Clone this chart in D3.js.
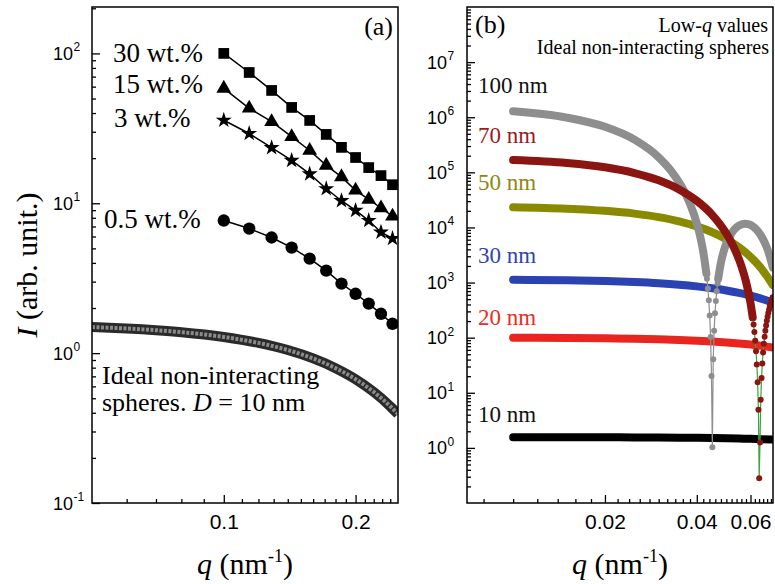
<!DOCTYPE html>
<html>
<head>
<meta charset="utf-8">
<script src="https://cdn.jsdelivr.net/npm/d3@7"></script>
<style>
  body { margin: 0; background: #fff; }
  .serif { font-family: "Liberation Serif", "Times New Roman", serif; }
  .sans { font-family: "Liberation Sans", Arial, sans-serif; }
</style>
</head>
<body>
<div id="chart"></div>
<script>
// ---------- Panel (a) data ----------
// q values (nm^-1) shared by the four concentration series
var qA = [0.1000, 0.1143, 0.1286, 0.1429, 0.1571, 0.1714, 0.1857, 0.2000, 0.2143, 0.2286, 0.2429];
var wt30 = [100, 74.6, 56.6, 43.6, 35.7, 28.8, 23.6, 20.2, 17.3, 15.3, 13.3];
var wt15 = [58.4, 43.0, 35.0, 27.8, 22.5, 17.9, 15.0, 12.2, 10.6, 9.3, 8.2];
var wt3 = [35.8, 29.2, 23.5, 19.3, 15.7, 12.5, 10.4, 8.96, 7.67, 6.41, 5.82];
var wt05 = [7.67, 6.78, 5.91, 5.06, 4.27, 3.55, 2.91, 2.49, 2.14, 1.83, 1.57];

// ideal spheres, D = 10 nm
var qSph = [0.05, 0.06, 0.07, 0.08, 0.10, 0.12, 0.14, 0.16, 0.18, 0.20, 0.22, 0.24, 0.25];
var iSph = [1.493, 1.460, 1.422, 1.380, 1.282, 1.170, 1.049, 0.922, 0.794, 0.670, 0.551, 0.442, 0.392];

// ---------- Panel (b) data ----------
var qFlat = [0.010, 0.015, 0.020, 0.025, 0.030, 0.035, 0.040, 0.045, 0.050, 0.055, 0.060, 0.065, 0.071];
var i10nm = [1.567, 1.563, 1.558, 1.551, 1.542, 1.532, 1.520, 1.508, 1.493, 1.477, 1.460, 1.442, 1.419];
var i20nm = [99.7, 98.7, 97.3, 95.6, 93.5, 91.0, 88.3, 85.3, 82.0, 78.5, 74.9, 71.1, 66.3];
var i30nm = [1124, 1099, 1065, 1022, 972, 915, 853, 787, 719, 649, 579, 511, 431];
var i50nm = [23331, 21901, 20025, 17816, 15401, 12909, 10463, 8172, 6120, 4363, 2931, 1827, 903];

var q70nm = [0.010, 0.015, 0.020, 0.025, 0.030, 0.035, 0.040, 0.045, 0.050, 0.053, 0.056, 0.058, 0.060, 0.061];
var i70nm = [167342, 147621, 123357, 97193, 71701, 48998, 30494, 16793, 7746, 4272, 1999, 1035, 427, 234];
var q70dip = [0.06103, 0.06141, 0.06179, 0.06217, 0.06255, 0.06293, 0.06331, 0.06369, 0.06407, 0.06445,
              0.06483, 0.06521, 0.06559, 0.06597, 0.06635, 0.06673, 0.06711, 0.06749, 0.06787, 0.06825,
              0.06863, 0.06901, 0.06939, 0.06977, 0.07015, 0.07053, 0.07091];
var i70dip = [229.7, 173.9, 126.8, 87.7, 56.7, 32.7, 15.6, 4.93, 0.281, 1.257,
              7.47, 18.5, 34.1, 53.8, 77.2, 104.1, 134.1, 166.9, 202.2, 239.6,
              279.0, 319.9, 362.2, 405.5, 449.6, 494.3, 539.4];

var q100nm = [0.010, 0.015, 0.020, 0.025, 0.030, 0.033, 0.036, 0.038, 0.040, 0.041, 0.042, 0.043];
var i100nm = [1281630, 985665, 669668, 391652, 187604, 105204, 50377, 26891, 11906, 7041, 3630, 1458];
var q100dip = [0.04319, 0.04349, 0.04379, 0.04409, 0.04439, 0.04469, 0.04499, 0.04529, 0.04559, 0.04589,
               0.04619, 0.04649, 0.04679, 0.04709];
var i100dip = [1166.9, 780.2, 477.4, 253.3, 102.5, 20.1, 1.03, 40.5, 133.9, 276.7, 464.5, 693.0, 957.9, 1255.5];
var q100lobe = [0.0470, 0.0480, 0.0490, 0.0500, 0.0520, 0.0540, 0.0560, 0.0576, 0.0590, 0.0610, 0.0630, 0.0650, 0.0670, 0.0690, 0.0710];
var i100lobe = [1163, 2317, 3671, 5111, 7877, 10053, 11337, 11658, 11449, 10475, 8919, 7046, 5114, 3339, 1884];

// tick labels
var yTicksA = [0.1, 1, 10, 100];
var yExpA = ["-1", "0", "1", "2"];
var xTicksA = [0.1, 0.2];
var yTicksB = [1, 10, 100, 1e3, 1e4, 1e5, 1e6, 1e7];
var yExpB = ["0", "1", "2", "3", "4", "5", "6", "7"];
var xTicksB = [0.02, 0.04, 0.06];

// ---------- setup ----------
var svgWidth = 775;
var svgHeight = 584;

var svg = d3.select("#chart")
    .append("svg")
    .attr("width", svgWidth)
    .attr("height", svgHeight);

var boxA = {left: 92, right: 398, top: 7, bottom: 503};
var boxB = {left: 467, right: 773, top: 7, bottom: 503};

var xA = d3.scaleLog().domain([0.05, 0.25]).range([boxA.left, boxA.right]);
var yA = d3.scaleLog().domain([0.1, 204]).range([boxA.bottom, boxA.top]);
var xB = d3.scaleLog().domain([0.00706, 0.0711]).range([boxB.left, boxB.right]);
var yB = d3.scaleLog().domain([0.1, 1e8]).range([boxB.bottom, boxB.top]);

var defs = svg.append("defs");
[["clipA", boxA], ["clipB", boxB]].forEach(function(c) {
    defs.append("clipPath").attr("id", c[0]).append("rect")
        .attr("x", c[1].left).attr("y", c[1].top)
        .attr("width", c[1].right - c[1].left)
        .attr("height", c[1].bottom - c[1].top);
});

function zip(q, v) {
    return q.map(function(d, i) { return [d, v[i]]; });
}

// minor ticks of a log axis (2..9 in each decade)
function logMinor(domain) {
    var out = [];
    for (var e = -2; e <= 9; e++) {
        for (var m = 2; m <= 9; m++) {
            var v = m * Math.pow(10, e);
            if (v > domain[0] && v < domain[1]) out.push(v);
        }
    }
    return out;
}

function cleanAxis(g) {
    g.select(".domain").remove();
    g.selectAll(".tick line").attr("stroke", "#000").attr("stroke-width", 1.3);
}

// power-of-ten label: "10" right-aligned at x, exponent after it
function powerLabel(g, x, y, exp) {
    g.append("text").attr("class", "sans")
        .attr("x", x).attr("y", y + 6.5)
        .attr("text-anchor", "end")
        .attr("font-size", 18)
        .text("10");
    g.append("text").attr("class", "sans")
        .attr("x", x + 0.5).attr("y", y - 2)
        .attr("font-size", 12)
        .text(exp);
}

// ---------- Panel (a) ----------
var gA = svg.append("g");

// y axis (ticks inside)
gA.append("g")
    .attr("transform", `translate(${boxA.left},0)`)
    .call(d3.axisLeft(yA).tickValues(yTicksA).tickSize(-8).tickFormat(""))
    .call(cleanAxis);
gA.append("g")
    .attr("transform", `translate(${boxA.left},0)`)
    .call(d3.axisLeft(yA).tickValues(logMinor(yA.domain())).tickSize(-4).tickFormat(""))
    .call(cleanAxis);
yTicksA.forEach(function(v, i) {
    powerLabel(gA, 73, yA(v), yExpA[i]);
});

// x axis
var minorXA = d3.range(6, 25).filter(function(k) { return k !== 10 && k !== 20; })
    .map(function(k) { return k / 100; });
gA.append("g")
    .attr("transform", `translate(0,${boxA.bottom})`)
    .call(d3.axisBottom(xA).tickValues(minorXA).tickSize(-4).tickFormat(""))
    .call(cleanAxis);
gA.append("g")
    .attr("transform", `translate(0,${boxA.bottom})`)
    .call(d3.axisBottom(xA).tickValues(xTicksA).tickSize(-8).tickPadding(11).tickFormat(d3.format(".1f")))
    .call(cleanAxis)
    .selectAll("text")
    .attr("class", "sans")
    .attr("font-size", 21)
    .attr("fill", "#000");

var plotA = gA.append("g").attr("clip-path", "url(#clipA)");

// ideal spheres band
var lineA = d3.line()
    .x(d => xA(d[0]))
    .y(d => yA(d[1]))
    .curve(d3.curveMonotoneX);
plotA.append("path")
    .attr("d", lineA(zip(qSph, iSph)))
    .attr("fill", "none")
    .attr("stroke", "#2a2a2a")
    .attr("stroke-width", 10);
plotA.append("path")
    .attr("d", lineA(zip(qSph, iSph)))
    .attr("fill", "none")
    .attr("stroke", "#8a8a8a")
    .attr("stroke-width", 4)
    .attr("stroke-dasharray", "3 1.5");

var seriesA = [
    {values: wt30, symbol: d3.symbolSquare, size: 115},
    {values: wt15, symbol: d3.symbolTriangle, size: 95},
    {values: wt3, symbol: d3.symbolStar, size: 80},
    {values: wt05, symbol: d3.symbolCircle, size: 120}
];

seriesA.forEach(function(s) {
    var pts = zip(qA, s.values);
    plotA.append("path")
        .attr("d", d3.line().x(d => xA(d[0])).y(d => yA(d[1]))(pts))
        .attr("fill", "none")
        .attr("stroke", "#000")
        .attr("stroke-width", 1.5);
    plotA.selectAll(null)
        .data(pts)
        .enter()
        .append("path")
        .attr("transform", d => `translate(${xA(d[0])},${yA(d[1])})`)
        .attr("d", d3.symbol(s.symbol, s.size))
        .attr("fill", "#000");
});

// series labels
var labelsA = [
    {text: "30 wt.%", x: 113, y: 62},
    {text: "15 wt.%", x: 113, y: 93},
    {text: "3 wt.%", x: 114, y: 127},
    {text: "0.5 wt.%", x: 104, y: 228}
];
labelsA.forEach(function(l) {
    gA.append("text").attr("class", "serif")
        .attr("x", l.x).attr("y", l.y)
        .attr("font-size", 27)
        .text(l.text);
});

var note1 = gA.append("text").attr("class", "serif").attr("font-size", 26)
    .attr("x", 102).attr("y", 384);
note1.text("Ideal non-interacting");
var note2 = gA.append("text").attr("class", "serif").attr("font-size", 26)
    .attr("x", 102).attr("y", 411);
note2.append("tspan").text("spheres. ");
note2.append("tspan").attr("font-style", "italic").text("D");
note2.append("tspan").text(" = 10 nm");

gA.append("text").attr("class", "serif")
    .attr("x", 393).attr("y", 35)
    .attr("text-anchor", "end")
    .attr("font-size", 26)
    .text("(a)");

// ---------- Panel (b) ----------
var gB = svg.append("g");

gB.append("g")
    .attr("transform", `translate(${boxB.left},0)`)
    .call(d3.axisLeft(yB).tickValues(yTicksB).tickSize(-8).tickFormat(""))
    .call(cleanAxis);
gB.append("g")
    .attr("transform", `translate(${boxB.left},0)`)
    .call(d3.axisLeft(yB).tickValues(logMinor(yB.domain())).tickSize(-4).tickFormat(""))
    .call(cleanAxis);
yTicksB.forEach(function(v, i) {
    powerLabel(gB, 447, yB(v), yExpB[i]);
});

var minorXB = d3.range(4, 36).filter(function(k) { return k % 10 !== 0; })
    .map(function(k) { return k * 0.002; });
gB.append("g")
    .attr("transform", `translate(0,${boxB.bottom})`)
    .call(d3.axisBottom(xB).tickValues(minorXB).tickSize(-4).tickFormat(""))
    .call(cleanAxis);
gB.append("g")
    .attr("transform", `translate(0,${boxB.bottom})`)
    .call(d3.axisBottom(xB).tickValues(xTicksB).tickSize(-8).tickPadding(11).tickFormat(d3.format(".2f")))
    .call(cleanAxis)
    .selectAll("text")
    .attr("class", "sans")
    .attr("font-size", 21)
    .attr("fill", "#000");

var plotB = gB.append("g").attr("clip-path", "url(#clipB)");

var lineB = d3.line()
    .x(d => xB(d[0]))
    .y(d => yB(d[1]))
    .curve(d3.curveMonotoneX);

function thick(q, v, color) {
    plotB.append("path")
        .attr("d", lineB(zip(q, v)))
        .attr("fill", "none")
        .attr("stroke", color)
        .attr("stroke-width", 8)
        .attr("stroke-linecap", "round")
        .attr("stroke-linejoin", "round");
}

function dotted(q, v, color, lineColor) {
    var pts = zip(q, v);
    plotB.append("path")
        .attr("d", d3.line().x(d => xB(d[0])).y(d => yB(d[1]))(pts))
        .attr("fill", "none")
        .attr("stroke", lineColor)
        .attr("stroke-width", 1.2);
    plotB.selectAll(null)
        .data(pts)
        .enter()
        .append("circle")
        .attr("cx", d => xB(d[0]))
        .attr("cy", d => yB(d[1]))
        .attr("r", 3)
        .attr("fill", color);
}

var cGray = "#8e8e8e", cDark = "#8b1510", cOlive = "#8a8a00", cBlue = "#2b42b3", cRed = "#e8261f";

thick(qFlat, i10nm, "#000");
thick(qFlat, i20nm, cRed);
thick(qFlat, i30nm, cBlue);
thick(qFlat, i50nm, cOlive);
thick(q100nm, i100nm, cGray);
dotted(q100dip, i100dip, cGray, cGray);
thick(q100lobe, i100lobe, cGray);
thick(q70nm, i70nm, cDark);
dotted(q70dip, i70dip, cDark, "#3aa63a");

var labelsB = [
    {text: "100 nm", y: 93, color: "#111"},
    {text: "70 nm", y: 143, color: "#9a1c1c"},
    {text: "50 nm", y: 190, color: "#8a8a10"},
    {text: "30 nm", y: 263, color: "#2e44b0"},
    {text: "20 nm", y: 325, color: "#ee2a22"},
    {text: "10 nm", y: 422, color: "#111"}
];
labelsB.forEach(function(l) {
    gB.append("text").attr("class", "serif")
        .attr("x", 478).attr("y", l.y)
        .attr("font-size", 23)
        .attr("fill", l.color)
        .text(l.text);
});

gB.append("text").attr("class", "serif")
    .attr("x", 475).attr("y", 33)
    .attr("font-size", 26)
    .text("(b)");

var low = gB.append("text").attr("class", "serif")
    .attr("x", 768).attr("y", 32)
    .attr("text-anchor", "end")
    .attr("font-size", 20);
low.append("tspan").text("Low-");
low.append("tspan").attr("font-style", "italic").text("q");
low.append("tspan").text(" values");
gB.append("text").attr("class", "serif")
    .attr("x", 769).attr("y", 54)
    .attr("text-anchor", "end")
    .attr("font-size", 20)
    .text("Ideal non-interacting spheres");

// ---------- frames ----------
[boxA, boxB].forEach(function(b) {
    svg.append("rect")
        .attr("x", b.left).attr("y", b.top)
        .attr("width", b.right - b.left)
        .attr("height", b.bottom - b.top)
        .attr("fill", "none")
        .attr("stroke", "#000")
        .attr("stroke-width", 1.5);
});

// ---------- axis titles ----------
function qTitle(cx) {
    var t = svg.append("text").attr("class", "serif")
        .attr("x", cx).attr("y", 574)
        .attr("text-anchor", "middle")
        .attr("font-size", 30);
    t.append("tspan").attr("font-style", "italic").text("q");
    t.append("tspan").text(" (nm");
    t.append("tspan").attr("font-size", 18).attr("dy", -12).text("-1");
    t.append("tspan").attr("dy", 12).text(")");
}
qTitle((boxA.left + boxA.right) / 2);
qTitle((boxB.left + boxB.right) / 2);

var yTitle = svg.append("text").attr("class", "serif")
    .attr("transform", "translate(37,265) rotate(-90)")
    .attr("text-anchor", "middle")
    .attr("font-size", 30);
yTitle.append("tspan").attr("font-style", "italic").text("I");
yTitle.append("tspan").text(" (arb. unit.)");
</script>
</body>
</html>
